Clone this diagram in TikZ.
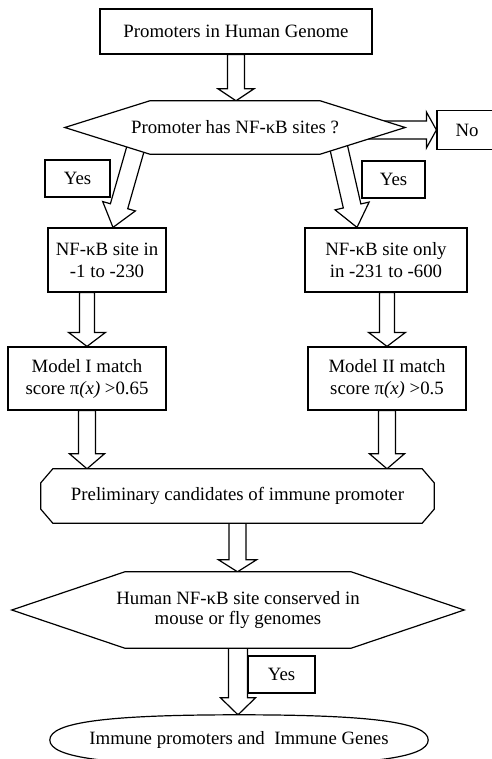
\documentclass[tikz,border=0pt]{standalone}
\usepackage{fontspec}
\setmainfont{Liberation Serif}
\usetikzlibrary{calc}
\pgfdeclarelayer{bglayer}
\pgfdeclarelayer{arrowlayer}
\pgfdeclarelayer{shapelayer}
\pgfsetlayers{bglayer,arrowlayer,shapelayer,main}
\tikzset{
  txt/.style={inner sep=0pt, align=center, font=\fontsize{18.8}{22}\selectfont},
  boxnode/.style={txt, draw, fill=white, line width=1.2pt},
  outline/.style={draw, fill=white, line width=1.2pt, line join=miter},
  barrow/.style={draw, fill=white, line width=1.2pt, line join=miter},
}
% #1 start, #2 end, #3 shaft half width, #4 head half width, #5 head length
\newcommand\blockarrow[5]{%
  \coordinate (bA) at (#1); \coordinate (bB) at (#2);
  \coordinate (bH) at ($(bB)!#5pt!(bA)$);
  \draw[barrow] ($(bA)!#3pt!90:(bB)$) -- ($(bH)!#3pt!-90:(bA)$) -- ($(bH)!#4pt!-90:(bA)$)
    -- (bB) -- ($(bH)!#4pt!90:(bA)$) -- ($(bH)!#3pt!90:(bA)$) -- ($(bA)!#3pt!-90:(bB)$) -- cycle;
}
\begin{document}
\begin{tikzpicture}[x=1pt,y=-1pt]
\useasboundingbox (0,0) rectangle (491,759);
\begin{pgfonlayer}{bglayer}
\fill[white] (0,0) rectangle (491,759);
\end{pgfonlayer}

% nodes
\node[boxnode, minimum width=272pt, minimum height=45pt] (top) at (236,31.5) {Promoters in Human Genome};
\node[txt, minimum width=340pt, minimum height=53pt] (hex1) at (235,127.5) {Promoter has NF-κB sites ?};
\node[boxnode, minimum width=60pt, minimum height=39pt] (no) at (467,130) {No};
\node[boxnode, minimum width=65pt, minimum height=37pt] (yesL) at (77.5,178.5) {Yes};
\node[boxnode, minimum width=63pt, minimum height=37pt] (yesR) at (393.5,179.5) {Yes};
\node[boxnode, minimum width=118pt, minimum height=64pt] (b2L) at (107,260) {NF-κB site in\\-1 to -230};
\node[boxnode, minimum width=162pt, minimum height=64pt] (b2R) at (386,260) {NF-κB site only\\in -231 to -600};
\node[boxnode, minimum width=158pt, minimum height=63pt] (b3L) at (87,378.5) {Model I match\\score π\textit{(x)} >0.65};
\node[boxnode, minimum width=158pt, minimum height=63pt] (b3R) at (387,378.5) {Model II match\\score π\textit{(x)} >0.5};
\node[txt, minimum width=393pt, minimum height=54pt] (oct) at (237.5,496) {Preliminary candidates of immune promoter};
\node[txt, minimum width=452pt, minimum height=76pt] (hex2) at (238,610) {Human NF-κB site conserved in\\[-2pt]mouse or fly genomes};
\node[boxnode, minimum width=67pt, minimum height=37pt] (yes3) at (281.5,674.5) {Yes};
\node[txt, minimum width=378pt, minimum height=50pt] (ell) at (239,740) {Immune promoters and\ \ Immune Genes};

% outlines of the non-rectangular shapes
\begin{pgfonlayer}{shapelayer}
\draw[outline] (hex1.west) -- ($(hex1.north west)+(85,0)$) -- ($(hex1.north east)+(-85,0)$) -- (hex1.east)
  -- ($(hex1.south east)+(-85,0)$) -- ($(hex1.south west)+(85,0)$) -- cycle;
\draw[outline] ($(oct.north west)+(0,14)$) -- ($(oct.north west)+(12,0)$) -- ($(oct.north east)+(-12,0)$)
  -- ($(oct.north east)+(0,14)$) -- ($(oct.south east)+(0,-14)$) -- ($(oct.south east)+(-12,0)$)
  -- ($(oct.south west)+(12,0)$) -- ($(oct.south west)+(0,-14)$) -- cycle;
\draw[outline] (hex2.west) -- ($(hex2.north west)+(113,0)$) -- ($(hex2.north east)+(-113,0)$) -- (hex2.east)
  -- ($(hex2.south east)+(-113,0)$) -- ($(hex2.south west)+(113,0)$) -- cycle;
\draw[outline] (ell.west) .. controls +(0,-18) and +(-130,0) .. (ell.north)
  .. controls +(130,0) and +(0,-18) .. (ell.east)
  .. controls +(0,18) and +(130,0) .. (ell.south)
  .. controls +(-130,0) and +(0,18) .. (ell.west) -- cycle;
\end{pgfonlayer}

% block arrows
\begin{pgfonlayer}{arrowlayer}
\blockarrow{top.south}{top.south |- hex1.north}{8.5}{18}{12}
\blockarrow{$(no.west)+(-77,0)$}{no.west}{9}{18}{10}
\blockarrow{138,140}{$(b2L.north)+(6,0)$}{9}{17}{22}
\blockarrow{337,140}{$(b2R.north)+(-29,0)$}{9}{17.5}{22}
\blockarrow{b3L.north |- b2L.south}{b3L.north}{7.5}{18.5}{14}
\blockarrow{b3R.north |- b2R.south}{b3R.north}{7.5}{18.5}{14}
\blockarrow{b3L.south}{b3L.south |- oct.north}{8.5}{17.5}{15}
\blockarrow{b3R.south}{b3R.south |- oct.north}{8.5}{17.5}{15}
\blockarrow{oct.south}{oct.south |- hex2.north}{8.5}{19}{12}
\blockarrow{hex2.south}{hex2.south |- ell.north}{9.5}{17.5}{17}
\end{pgfonlayer}
\end{tikzpicture}
\end{document}
